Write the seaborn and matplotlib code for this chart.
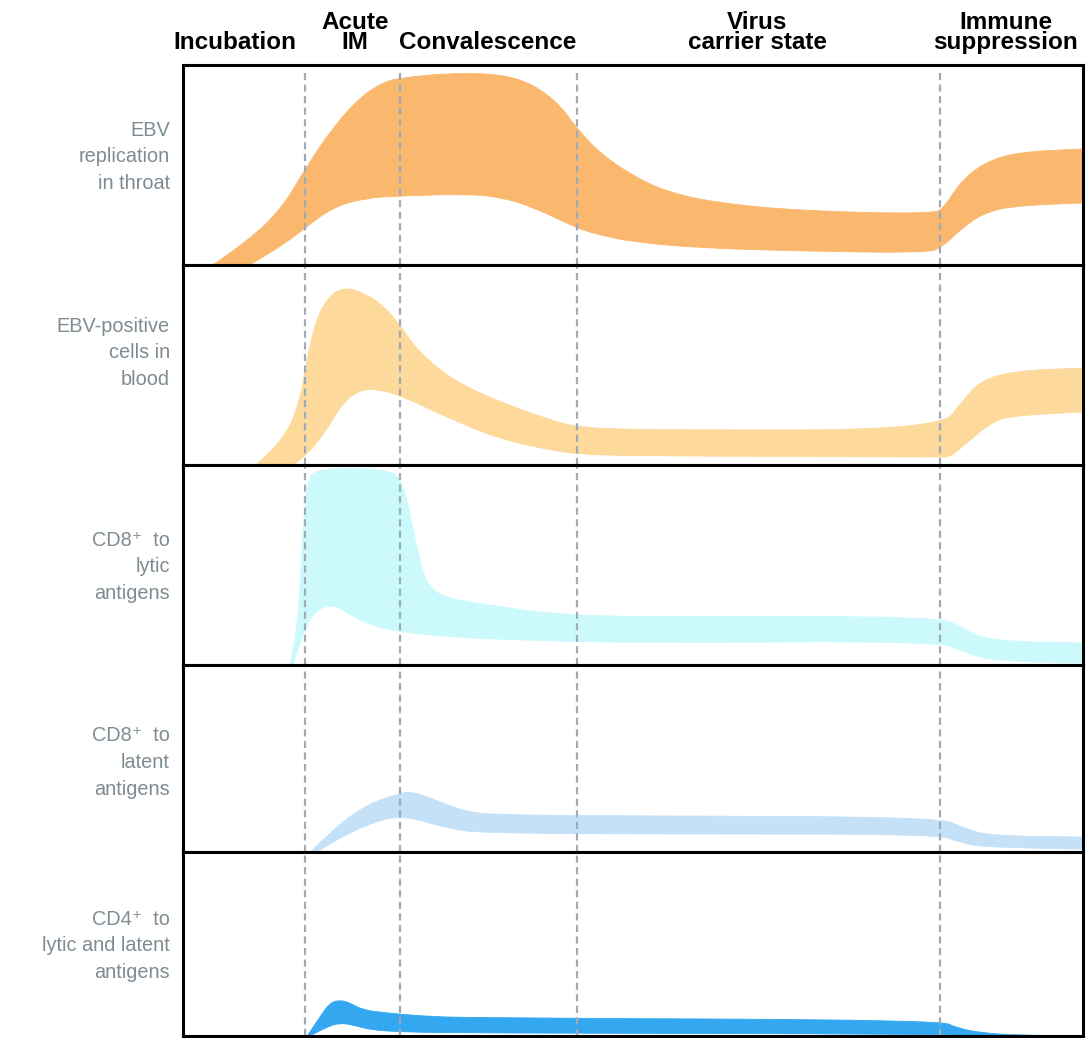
import numpy as np
import matplotlib
matplotlib.use("Agg")
import matplotlib.pyplot as plt
from matplotlib.path import Path
from matplotlib.patches import PathPatch
import seaborn as sns

# Phases (x positions in arbitrary time units, 0-100)
phase_names = ["Incubation", "Acute\nIM", "Convalescence", "Virus\ncarrier state", "Immune\nsuppression"]
phase_label_x = [5.8, 19.1, 33.9, 63.8, 91.4]
phase_bounds = [13.6, 24.1, 43.8, 84.1]

panel_labels = [
    "EBV\nreplication\nin throat",
    "EBV-positive\ncells in\nblood",
    "CD8\u207a  to\nlytic\nantigens",
    "CD8\u207a  to\nlatent\nantigens",
    "CD4\u207a  to\nlytic and latent\nantigens",
]
panel_colors = ["#FAB86E", "#FDD99B", "#CCFAFC", "#C4E1F8", "#33A8F0"]

# EBV replication in throat
throat_up_x = [3.3, 7.4, 11.1, 13.7, 16.7, 19.7, 22.3, 24.1, 29.7, 35.2, 38.9, 41.9, 43.7, 46.3, 50.0, 53.8, 59.4, 68.8, 83.4, 84.6, 86.3, 88.9, 92.7, 100.0]
throat_up_y = [0.0, 0.125, 0.29, 0.49, 0.69, 0.84, 0.915, 0.935, 0.96, 0.955, 0.905, 0.80, 0.685, 0.56, 0.445, 0.365, 0.31, 0.27, 0.255, 0.29, 0.41, 0.51, 0.565, 0.58]
throat_lo_x = [7.4, 11.1, 13.7, 16.7, 20.3, 24.1, 31.4, 35.2, 38.9, 43.7, 46.3, 50.0, 57.4, 68.5, 82.6, 84.4, 86.3, 88.9, 92.7, 100.0]
throat_lo_y = [0.0, 0.10, 0.19, 0.29, 0.335, 0.345, 0.355, 0.34, 0.29, 0.185, 0.15, 0.115, 0.085, 0.07, 0.06, 0.09, 0.175, 0.26, 0.30, 0.31]

# EBV-positive cells in blood
blood_up_x = [8.1, 11.1, 13.0, 13.7, 14.8, 16.3, 18.1, 20.3, 22.2, 24.1, 25.9, 29.7, 35.2, 40.8, 43.7, 50.0, 84.1, 86.7, 88.6, 92.2, 100.0]
blood_up_y = [0.0, 0.115, 0.315, 0.515, 0.73, 0.85, 0.89, 0.855, 0.80, 0.70, 0.58, 0.43, 0.315, 0.225, 0.19, 0.175, 0.175, 0.325, 0.42, 0.47, 0.485]
blood_lo_x = [12.2, 13.7, 15.6, 17.8, 19.7, 21.4, 24.1, 29.7, 35.2, 40.8, 43.7, 50.0, 84.1, 85.2, 86.7, 89.7, 92.2, 100.0]
blood_lo_y = [0.0, 0.05, 0.15, 0.315, 0.375, 0.38, 0.35, 0.23, 0.13, 0.075, 0.055, 0.045, 0.04, 0.04, 0.095, 0.21, 0.25, 0.265]

# CD8+ to lytic antigens
lytic_up_x = [11.9, 12.8, 13.3, 13.9, 14.8, 18.6, 22.2, 24.1, 25.2, 26.3, 27.4, 29.7, 33.3, 40.8, 50.0, 84.1, 86.7, 89.7, 100.0]
lytic_up_y = [0.0, 0.18, 0.68, 0.93, 0.975, 0.985, 0.975, 0.95, 0.765, 0.515, 0.38, 0.33, 0.305, 0.255, 0.24, 0.245, 0.18, 0.12, 0.11]
lytic_lo_x = [12.2, 13.7, 14.8, 16.7, 18.6, 20.8, 24.1, 29.7, 37.0, 50.0, 83.8, 86.7, 90.4, 100.0]
lytic_lo_y = [0.0, 0.20, 0.275, 0.305, 0.25, 0.20, 0.165, 0.14, 0.125, 0.11, 0.12, 0.065, 0.015, 0.01]

# CD8+ to latent antigens
latent_up_x = [14.2, 16.7, 20.3, 24.1, 25.6, 27.8, 31.4, 35.2, 50.0, 84.1, 86.7, 89.7, 100.0]
latent_up_y = [0.0, 0.123, 0.251, 0.316, 0.321, 0.283, 0.214, 0.198, 0.193, 0.187, 0.128, 0.086, 0.08]
latent_lo_x = [14.8, 18.6, 22.2, 24.1, 25.9, 29.7, 33.3, 50.0, 84.1, 86.0, 89.7, 100.0]
latent_lo_y = [0.0, 0.107, 0.176, 0.187, 0.176, 0.123, 0.102, 0.096, 0.096, 0.053, 0.021, 0.016]

# CD4+ to lytic and latent antigens
cd4_up_x = [13.8, 15.2, 16.3, 17.4, 18.6, 20.0, 22.7, 26.3, 31.9, 84.1, 86.0, 88.9, 92.7, 100.0]
cd4_up_y = [0.0, 0.103, 0.179, 0.196, 0.179, 0.141, 0.125, 0.109, 0.098, 0.087, 0.043, 0.016, 0.005, 0.0]
cd4_lo_x = [14.1, 16.0, 17.4, 18.9, 20.8, 24.4, 31.9, 84.1, 86.4, 100.0]
cd4_lo_y = [0.0, 0.049, 0.071, 0.06, 0.033, 0.022, 0.016, 0.011, 0.0, 0.0]

bands = [
    (throat_up_x, throat_up_y, throat_lo_x, throat_lo_y),
    (blood_up_x, blood_up_y, blood_lo_x, blood_lo_y),
    (lytic_up_x, lytic_up_y, lytic_lo_x, lytic_lo_y),
    (latent_up_x, latent_up_y, latent_lo_x, latent_lo_y),
    (cd4_up_x, cd4_up_y, cd4_lo_x, cd4_lo_y),
]
label_y = [0.54, 0.56, 0.49, 0.48, 0.49]


def smooth_run(pts, first):
    # quadratic bezier chain: read points act as control points
    verts = [pts[0]]
    codes = [Path.MOVETO if first else Path.LINETO]
    for k in range(1, len(pts) - 1):
        mid = ((pts[k][0] + pts[k + 1][0]) / 2, (pts[k][1] + pts[k + 1][1]) / 2)
        verts += [pts[k], mid]
        codes += [Path.CURVE3, Path.CURVE3]
    verts.append(pts[-1])
    codes.append(Path.LINETO)
    return verts, codes


def band_path(ux, uy, lx, ly):
    up = list(zip(ux, uy))
    lo = list(zip(lx, ly))[::-1]
    v1, c1 = smooth_run(up, True)
    v2, c2 = smooth_run(lo, False)
    verts = v1 + v2 + [up[0]]
    codes = c1 + c2 + [Path.CLOSEPOLY]
    return Path(verts, codes)


sns.set_theme(style="white")
plt.rcParams["font.family"] = ["Liberation Sans", "DejaVu Sans"]

W, H = 1088, 1038
fig = plt.figure(figsize=(W / 100, H / 100), dpi=100)
gs = fig.add_gridspec(5, 1, height_ratios=[200, 200, 200, 187, 184],
                      left=183 / W, right=1083 / W, top=1 - 65 / H, bottom=1 - 1036 / H,
                      hspace=0)

for i, (ux, uy, lx, ly) in enumerate(bands):
    ax = fig.add_subplot(gs[i])
    color = panel_colors[i]
    ax.add_patch(PathPatch(band_path(ux, uy, lx, ly), facecolor=color,
                           edgecolor=color, lw=0.6, zorder=1))
    for xb in phase_bounds:
        ax.axvline(xb, ymax=0.965 if i == 0 else 1, color="#9DABB6", lw=1.6,
                   dashes=(3.2, 2.0), zorder=2)
    ax.set_xlim(0, 100)
    ax.set_ylim(0, 1)
    ax.set_xticks([])
    ax.set_yticks([])
    for s in ax.spines.values():
        s.set_visible(True)
        s.set_color("black")
        s.set_linewidth(2.2)
        s.set_zorder(5)
    ax.text(-0.0145, label_y[i], panel_labels[i], transform=ax.transAxes,
            ha="right", va="center", ma="right", fontsize=14.3, color="#7E8B92",
            linespacing=1.52)

for name, xp in zip(phase_names, phase_label_x):
    fig.text((183 + xp * 9) / W, 1 - 54 / H, name, ha="center", va="bottom",
             ma="center", fontsize=17.5, fontweight="bold", color="black",
             linespacing=0.85)

fig.savefig("out.png", dpi=100)
